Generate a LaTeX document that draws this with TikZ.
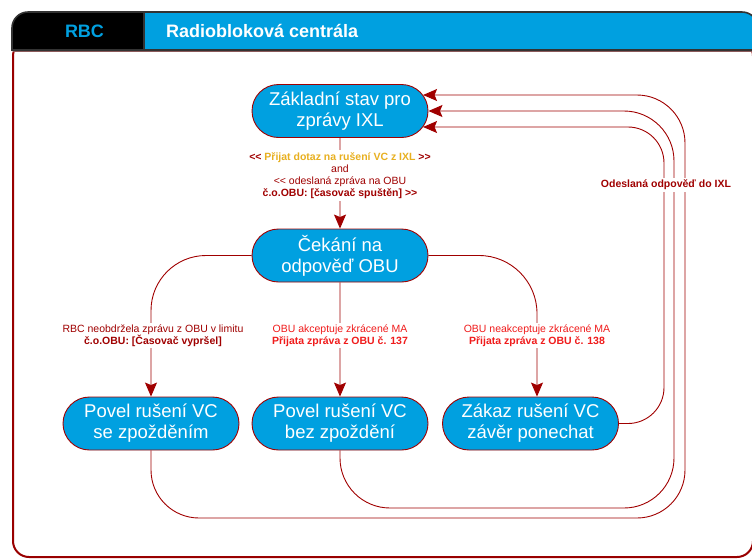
\documentclass[tikz,border=0pt]{standalone}
\usepackage{fontspec}
\setmainfont{Liberation Sans}
\usetikzlibrary{shapes.misc,arrows.meta,calc}
\definecolor{nodeblue}{HTML}{00A0E0}
\definecolor{darkred}{HTML}{A00000}
\definecolor{gold}{HTML}{E8B020}
\definecolor{brightred}{HTML}{F01C1C}
\definecolor{hdrline}{HTML}{333333}
\definecolor{framered}{HTML}{990000}
\definecolor{seam}{HTML}{8B5A5A}
% guillemet-free double angle brackets
\newcommand\opn{<{}<}
\newcommand\cls{>{}>}
\begin{document}
\begin{tikzpicture}[x=1pt,y=-1pt,
  state/.style={rounded rectangle, fill=nodeblue, draw=darkred, line width=0.9pt,
    minimum width=176pt, minimum height=53pt, inner sep=0pt, text=white,
    align=center, font=\fontsize{18.5}{21}\selectfont},
  conn/.style={draw=darkred, line width=0.9pt},
  tip/.style={-{Stealth[length=14pt,width=12pt,inset=2.5pt]}},
  lbl/.style={fill=white, inner sep=2pt, align=center, text=darkred,
    font=\fontsize{10.5}{12}\selectfont},
  hdrtext/.style={inner sep=0pt, font=\bfseries\fontsize{18}{21}\selectfont},
]
\useasboundingbox (0,0) rectangle (752,558);
\clip (0,0) rectangle (752,558);

% outer frame
\draw[framered, line width=2pt, rounded corners=16] (13,40) -- (13,557) -- (753,557) -- (753,40) -- cycle;
\draw[seam, line width=0.8pt] (13,51) -- (752,51);

% header band
\path[fill=black] (12,50) -- (12,28) arc[start angle=180,end angle=270,radius=16] -- (144,12) -- (144,50) -- cycle;
\path[fill=nodeblue] (144,12) -- (742,12) arc[start angle=270,end angle=360,radius=16] -- (758,50) -- (144,50) -- cycle;
\draw[hdrline, line width=1.6pt] (12,50) -- (12,28) arc[start angle=180,end angle=270,radius=16]
  -- (742,12) arc[start angle=270,end angle=360,radius=16] -- (758,50) -- cycle;
\draw[hdrline, line width=1.6pt] (144,12) -- (144,50);
\node[hdrtext, text=nodeblue] (rbc) at (84.5,31) {RBC};
\node[hdrtext, text=white, anchor=west] (title) at (166,31) {Radiobloková centrála};

% states
\node[state] (n1) at (340,111) {Základní stav pro\\zprávy IXL};
\node[state] (n2) at (340,255.5) {Čekání na\\odpověď OBU};
\node[state] (nA) at (151,423.5) {Povel rušení VC\\se zpožděním};
\node[state] (nB) at (340,423.5) {Povel rušení VC\\bez zpoždění};
\node[state] (nC) at (530.5,423.5) {Zákaz rušení VC\\závěr ponechat};

% entry points on the right of the initial state
\coordinate (t1) at ($(n1.east)+(-5.4,-16)$);
\coordinate (t2) at (n1.east);
\coordinate (t3) at ($(n1.east)+(-5.4,16)$);

% forward transitions
\draw[conn,tip] (n1) -- (n2);
\draw[conn,tip,rounded corners=55] (n2.west) -| (nA.north);
\draw[conn,tip] (n2) -- (nB);
\draw[conn,tip,rounded corners=58] (n2.east) -| ([xshift=6.5pt]nC.north);

% return transitions
\draw[conn,tip,rounded corners=48] (nA.south) |- (685,518) |- (t1);
\draw[conn,tip,rounded corners=50] (nB.south) |- (674,508) |- (t2);
\draw[conn,tip,rounded corners=36] (nC.east) -| (664,127) -- (t3);

% transition labels
\node[lbl] (lab1) at (340,175.5) {\textbf{\opn{} \textcolor{gold}{Přijat dotaz na rušení VC z IXL} \cls}\\and\\\opn{} odeslaná zpráva na OBU\\\textbf{č.o.OBU: [časovač spuštěn] \cls}};
\node[lbl] (labA) at (153,335.5) {RBC neobdržela zprávu z OBU v limitu\\\textbf{č.o.OBU: [Časovač vypršel]}};
\node[lbl, text=brightred] (labB) at (340,335.5) {OBU akceptuje zkrácené MA\\\textbf{Přijata zpráva z OBU č. 137}};
\node[lbl, text=brightred] (labC) at (537,335.5) {OBU neakceptuje zkrácené MA\\\textbf{Přijata zpráva z OBU č. 138}};
\node[lbl, inner sep=1.5pt] (labR) at (666,185) {\textbf{Odeslaná odpověď do IXL}};
\end{tikzpicture}
\end{document}
